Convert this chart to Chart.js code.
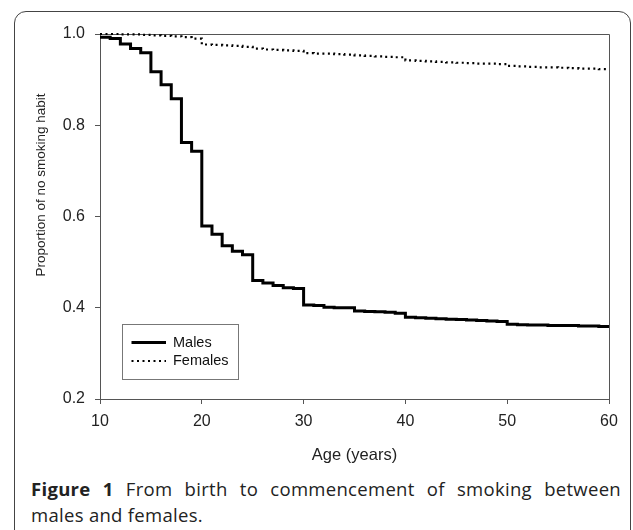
<!DOCTYPE html>
<html>
<head>
<meta charset="utf-8">
<script src="https://cdn.jsdelivr.net/npm/chart.js@4.4.1/dist/chart.umd.min.js"></script>
<style>
	html, body { margin: 0; padding: 0; background: #fff; }
	body { width: 633px; height: 530px; position: relative; overflow: hidden; }
	#frame {
		position: absolute; left: 14px; top: 11px; width: 615px; height: 600px;
		border: 1.5px solid #444; border-radius: 12px;
	}
	#chart { position: absolute; left: 0; top: 0; }
	#caption {
		position: absolute; left: 31px; top: 476px; width: 590px;
		font-family: "Open Sans", sans-serif; font-size: 18.5px; line-height: 26px;
		letter-spacing: 0.3px; color: #222; text-align: justify;
	}
	#caption b { font-weight: 700; }
</style>
</head>
<body>
<div id="frame"></div>
<canvas id="chart" width="633" height="470"></canvas>
<div id="caption"><b>Figure 1</b> From birth to commencement of smoking between males and females.</div>
<script>
// 나이 (years)
const ages = [10, 11, 12, 13, 14, 15, 16, 17, 18, 19,
	20, 21, 22, 23, 24, 25, 26, 27, 28, 29,
	30, 31, 32, 33, 34, 35, 36, 37, 38, 39,
	40, 41, 42, 43, 44, 45, 46, 47, 48, 49,
	50, 51, 52, 53, 54, 55, 56, 57, 58, 59, 60];

// 남성 비율 (읽은 값)
const males = [0.993, 0.990, 0.978, 0.968, 0.959, 0.917, 0.889, 0.858, 0.762, 0.743,
	0.579, 0.561, 0.536, 0.524, 0.516, 0.460, 0.454, 0.449, 0.444, 0.442,
	0.406, 0.405, 0.401, 0.400, 0.400, 0.393, 0.392, 0.391, 0.390, 0.388,
	0.379, 0.378, 0.377, 0.376, 0.375, 0.374, 0.373, 0.372, 0.371, 0.370,
	0.364, 0.363, 0.362, 0.362, 0.361, 0.361, 0.361, 0.360, 0.360, 0.359, 0.359];

// 여성 비율
const females = [1.000, 1.000, 0.999, 0.999, 0.998, 0.997, 0.996, 0.995, 0.993, 0.990,
	0.977, 0.976, 0.975, 0.974, 0.972, 0.968, 0.966, 0.965, 0.964, 0.963,
	0.958, 0.957, 0.957, 0.956, 0.955, 0.953, 0.952, 0.951, 0.950, 0.949,
	0.942, 0.941, 0.940, 0.939, 0.938, 0.937, 0.936, 0.935, 0.935, 0.934,
	0.930, 0.929, 0.928, 0.927, 0.927, 0.926, 0.925, 0.924, 0.924, 0.923, 0.922];

const seriesLabels = ['Males', 'Females'];
const xTicks = [10, 20, 30, 40, 50, 60];
const yTicks = [0.2, 0.4, 0.6, 0.8, 1.0];
const xTitle = 'Age (years)';
const yTitle = 'Proportion of no smoking habit';

const axisColor = '#555';
const textColor = '#222';
const arial = 'Liberation Sans, Arial, sans-serif';

// 플롯 테두리 + y축 제목 + 범례
const framePlugin = {
	id: 'framePlugin',
	beforeDatasetsDraw(chart) {
		const { ctx, chartArea: a } = chart;
		ctx.save();
		ctx.strokeStyle = axisColor;
		ctx.lineWidth = 1;
		ctx.beginPath();
		ctx.moveTo(a.left, a.top + 0.5);
		ctx.lineTo(a.right + 0.5, a.top + 0.5);
		ctx.lineTo(a.right + 0.5, a.bottom);
		ctx.stroke();
		ctx.restore();
	},
	afterDraw(chart) {
		const { ctx, chartArea: a } = chart;
		ctx.save();
		// y축 제목
		ctx.fillStyle = textColor;
		ctx.font = '13.5px ' + arial;
		ctx.textAlign = 'center';
		ctx.textBaseline = 'middle';
		ctx.translate(a.left - 59, a.top + 151);
		ctx.rotate(-Math.PI / 2);
		ctx.fillText(yTitle, 0, 0);
		ctx.restore();

		// 범례 박스
		const bx = a.left + 22, by = a.top + 290, bw = 116, bh = 55;
		ctx.save();
		ctx.fillStyle = '#fff';
		ctx.fillRect(bx, by, bw, bh);
		ctx.strokeStyle = '#777';
		ctx.lineWidth = 1;
		ctx.strokeRect(bx + 0.5, by + 0.5, bw, bh);
		chart.data.datasets.forEach((ds, i) => {
			const y = by + 18.5 + i * 18.5;
			ctx.strokeStyle = ds.borderColor;
			ctx.lineWidth = ds.borderWidth;
			ctx.setLineDash(ds.borderDash || []);
			ctx.beginPath();
			ctx.moveTo(bx + 9.5, y);
			ctx.lineTo(bx + 44, y);
			ctx.stroke();
			ctx.setLineDash([]);
			ctx.fillStyle = '#111';
			ctx.font = '14.5px ' + arial;
			ctx.textAlign = 'left';
			ctx.textBaseline = 'middle';
			ctx.fillText(ds.label, bx + 51, y);
		});
		ctx.restore();
	}
};

const ctx = document.getElementById('chart').getContext('2d');
new Chart(ctx, {
	type: 'line',
	data: {
		datasets: [{
			label: seriesLabels[0],
			data: ages.map((a, i) => ({ x: a, y: males[i] })),
			borderColor: '#000',
			borderWidth: 3,
			stepped: 'before', // 가로로 간 다음 해당 나이에서 세로로 떨어짐
			pointRadius: 0,
			fill: false,
			clip: false,
		}, {
			label: seriesLabels[1],
			data: ages.map((a, i) => ({ x: a, y: females[i] })),
			borderColor: '#000',
			borderWidth: 2.2,
			borderDash: [2, 3.5],
			stepped: 'before',
			pointRadius: 0,
			fill: false,
			clip: false,
		}]
	},
	options: {
		responsive: false,
		animation: false,
		layout: { padding: { left: 0, top: 34, right: 24, bottom: 5 } },
		plugins: {
			legend: { display: false },
			tooltip: { enabled: false }
		},
		scales: {
			x: {
				type: 'linear',
				min: 10,
				max: 60,
				afterBuildTicks: scale => { scale.ticks = xTicks.map(v => ({ value: v })); },
				afterFit: scale => { scale.height = 66; },
				ticks: {
					color: textColor,
					font: { family: arial, size: 16 },
					padding: 8,
					maxRotation: 0,
				},
				grid: { drawOnChartArea: false, drawTicks: true, tickLength: 5, color: axisColor },
				border: { display: true, color: axisColor, width: 1 },
				title: {
					display: true,
					text: xTitle,
					color: textColor,
					font: { family: arial, size: 16.5 },
					padding: 0,
				}
			},
			y: {
				min: 0.2,
				max: 1.0,
				afterBuildTicks: scale => { scale.ticks = yTicks.map(v => ({ value: v })); },
				afterFit: scale => { scale.width = 100; },
				ticks: {
					color: textColor,
					font: { family: arial, size: 16 },
					padding: 10,
					callback: v => v.toFixed(1),
				},
				grid: { drawOnChartArea: false, drawTicks: true, tickLength: 5, color: axisColor },
				border: { display: true, color: axisColor, width: 1 },
			}
		}
	},
	plugins: [framePlugin]
});
</script>
</body>
</html>
